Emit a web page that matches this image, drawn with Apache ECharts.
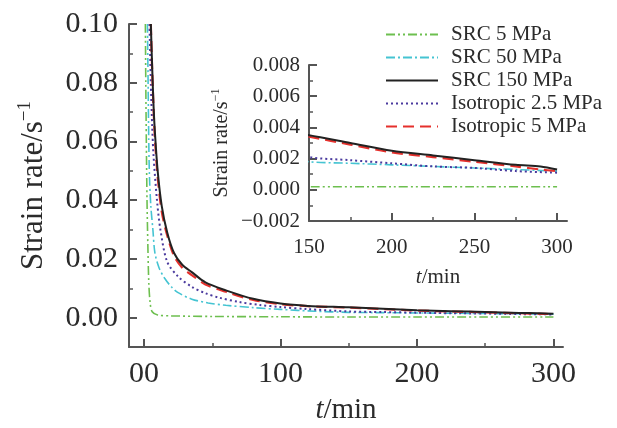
<!DOCTYPE html>
<html><head><meta charset="utf-8">
<script src="https://cdn.jsdelivr.net/npm/echarts@6/dist/echarts.min.js"></script>
<style>html,body{margin:0;padding:0;background:#fff}#c{width:617px;height:428px}</style>
</head><body><div id="c"></div>
<script>
// ---- data ----
const seriesNames = ['SRC 5 MPa', 'SRC 50 MPa', 'SRC 150 MPa', 'Isotropic 2.5 MPa', 'Isotropic 5 MPa'];

const src5T  = [1, 1.3, 1.7, 2.2, 2.8, 3.5, 4.5, 6, 10, 20, 50, 100, 150, 200, 250, 300];
const src5V  = [0.1, 0.08, 0.06, 0.04, 0.025, 0.012, 0.005, 0.002, 0.0009, 0.0006, 0.0004, 0.0003, 0.0002, 0.0002, 0.0002, 0.0002];

const src50T = [2.5, 3, 3.5, 4, 5, 6.5, 8, 11, 15, 20, 25, 35, 47, 60, 80, 100, 125, 150, 175, 200, 225, 250, 275, 300];
const src50V = [0.1, 0.08, 0.06, 0.048, 0.038, 0.03, 0.022, 0.017, 0.0135, 0.0105, 0.0085, 0.0063, 0.005, 0.0042, 0.0034, 0.0028, 0.0022, 0.0018, 0.0017, 0.0016, 0.0015, 0.0014, 0.0013, 0.0012];

const src150T = [5, 6, 7, 8, 10, 13, 17, 22, 28, 35, 45, 60, 80, 100, 120, 150, 175, 200, 225, 250, 275, 290, 300];
const src150V = [0.1, 0.085, 0.072, 0.063, 0.05, 0.038, 0.029, 0.022, 0.018, 0.0155, 0.012, 0.0093, 0.0064, 0.0048, 0.004, 0.0035, 0.003, 0.0025, 0.0022, 0.0019, 0.0016, 0.0015, 0.0013];

const iso25T = [4, 5, 6, 7, 9.5, 12, 17, 25, 35, 45, 55, 70, 85, 100, 120, 150, 175, 200, 225, 250, 275, 300];
const iso25V = [0.1, 0.08, 0.065, 0.055, 0.04, 0.03, 0.019, 0.014, 0.0105, 0.0083, 0.0068, 0.0053, 0.0043, 0.0036, 0.0029, 0.0021, 0.0019, 0.0017, 0.0015, 0.0014, 0.0012, 0.0011];

const iso5T = [5, 6, 7, 8, 10, 13, 17, 22, 28, 35, 45, 60, 80, 100, 120, 150, 175, 200, 225, 250, 275, 290, 300];
const iso5V = [0.1, 0.084, 0.071, 0.061, 0.048, 0.036, 0.028, 0.021, 0.017, 0.0145, 0.0113, 0.0088, 0.006, 0.0046, 0.0039, 0.0034, 0.0029, 0.0024, 0.0021, 0.0018, 0.0015, 0.0013, 0.0012];

const mainXTicks = [0, 100, 200, 300];
const mainXMinor = [50, 150, 250];
const mainYTicks = [0, 0.02, 0.04, 0.06, 0.08, 0.10];
const mainYMinor = [0.01, 0.03, 0.05, 0.07, 0.09];
const insetXTicks = [150, 200, 250, 300];
const insetXMinor = [175, 225, 275];
const insetYTicks = [-0.002, 0, 0.002, 0.004, 0.006, 0.008];
const insetYMinor = [-0.001, 0.001, 0.003, 0.005, 0.007];

// ---- styling ----
const FONT = 'Liberation Serif';
const AX = '#555';
const TXT = '#2b2b2b';
const colors = ['#6dbf4f', '#45c4d2', '#222222', '#4a3a9e', '#e5302c'];
const dashes = [[9, 3, 2, 3, 2, 3], [9, 3, 2, 3], 'solid', [2, 3], [11, 6]];
const widths = [1.6, 1.6, 2, 2, 2.2];

const zip = (t, v) => t.map((x, i) => [x, v[i]]);
const dataSets = [zip(src5T, src5V), zip(src50T, src50V), zip(src150T, src150V), zip(iso25T, iso25V), zip(iso5T, iso5V)];

function xMajor(grid, min, max, ticks, fs, margin, name, gap, nfs, labelFmt) {
  return {
    type: 'value', gridIndex: grid, min, max, position: 'bottom',
    axisLine: { show: true, onZero: false, lineStyle: { color: AX, width: 2 } },
    axisTick: { show: true, inside: true, length: 8, customValues: ticks, lineStyle: { color: AX, width: 2 } },
    axisLabel: { customValues: ticks, fontFamily: FONT, fontSize: fs, color: TXT, margin, formatter: labelFmt },
    splitLine: { show: false },
    name, nameLocation: 'middle', nameGap: gap,
    nameTextStyle: { fontFamily: FONT, fontSize: nfs, color: TXT, rich: { i: { fontFamily: FONT, fontSize: nfs, fontStyle: 'italic', color: TXT } } }
  };
}
function minorAxis(grid, min, max, ticks, pos) {
  return {
    type: 'value', gridIndex: grid, min, max, position: pos,
    axisLine: { show: false, onZero: false },
    axisTick: { show: true, inside: true, length: 4, customValues: ticks, lineStyle: { color: AX, width: 1.5 } },
    axisLabel: { show: false }, splitLine: { show: false }
  };
}
function yMajor(grid, min, max, ticks, fs, margin, gap, nfs, dec) {
  return {
    type: 'value', gridIndex: grid, min, max, position: 'left',
    axisLine: { show: true, onZero: false, lineStyle: { color: AX, width: 2 } },
    axisTick: { show: true, inside: true, length: 8, customValues: ticks, lineStyle: { color: AX, width: 2 } },
    axisLabel: { customValues: ticks, fontFamily: FONT, fontSize: fs, color: TXT, margin,
      formatter: v => (v < 0 ? '\u2212' + Math.abs(v).toFixed(dec) : v.toFixed(dec)) },
    splitLine: { show: false },
    name: '{a|Strain rate/s}{s|\u22121}', nameLocation: 'middle', nameGap: gap,
    nameTextStyle: { rich: {
      a: { fontFamily: FONT, fontSize: nfs, color: TXT },
      s: { fontFamily: FONT, fontSize: Math.round(nfs * 0.6), color: TXT, padding: [0, 0, Math.round(nfs * 0.55), 0] }
    } }
  };
}

const series = [];
dataSets.forEach((d, i) => {
  [0, 2].forEach(ax => {
    series.push({
      type: 'line', name: seriesNames[i], data: d, xAxisIndex: ax, yAxisIndex: ax,
      smooth: 0.3, symbol: 'none', showSymbol: false, clip: true, z: i === 2 ? 4 : 3,
      lineStyle: { color: colors[i], width: widths[i], type: dashes[i] },
      itemStyle: { color: colors[i] }
    });
  });
});

const chart = echarts.init(document.getElementById('c'), null, { renderer: 'canvas' });
chart.setOption({
  backgroundColor: '#ffffff',
  animation: false,
  grid: [
    { left: 129, right: 54, top: 24, bottom: 81, containLabel: false, outerBoundsMode: 'none' },
    { left: 309, right: 50, top: 65, bottom: 207, containLabel: false, outerBoundsMode: 'none' }
  ],
  xAxis: [
    xMajor(0, -11, 307, mainXTicks, 30, 12, '{i|t}/min', 49, 29, v => (v === 0 ? '00' : String(v))),
    minorAxis(0, -11, 307, mainXMinor, 'bottom'),
    xMajor(1, 150, 306, insetXTicks, 21, 16, '{i|t}/min', 46, 21, v => String(v)),
    minorAxis(1, 150, 306, insetXMinor, 'bottom')
  ],
  yAxis: [
    yMajor(0, -0.01, 0.10, mainYTicks, 30, 11, 77, 31, 2),
    minorAxis(0, -0.01, 0.10, mainYMinor, 'left'),
    yMajor(1, -0.002, 0.008, insetYTicks, 21, 9, 76, 20, 3),
    minorAxis(1, -0.002, 0.008, insetYMinor, 'left')
  ],
  legend: {
    data: seriesNames, orient: 'vertical', left: 380, top: 19,
    itemWidth: 52, itemHeight: 12, itemGap: 2,
    itemStyle: { opacity: 0 },
    textStyle: { fontFamily: FONT, fontSize: 21, color: TXT, lineHeight: 19, padding: [0, 0, 0, 8] },
    backgroundColor: 'transparent'
  },
  series
});
</script></body></html>
